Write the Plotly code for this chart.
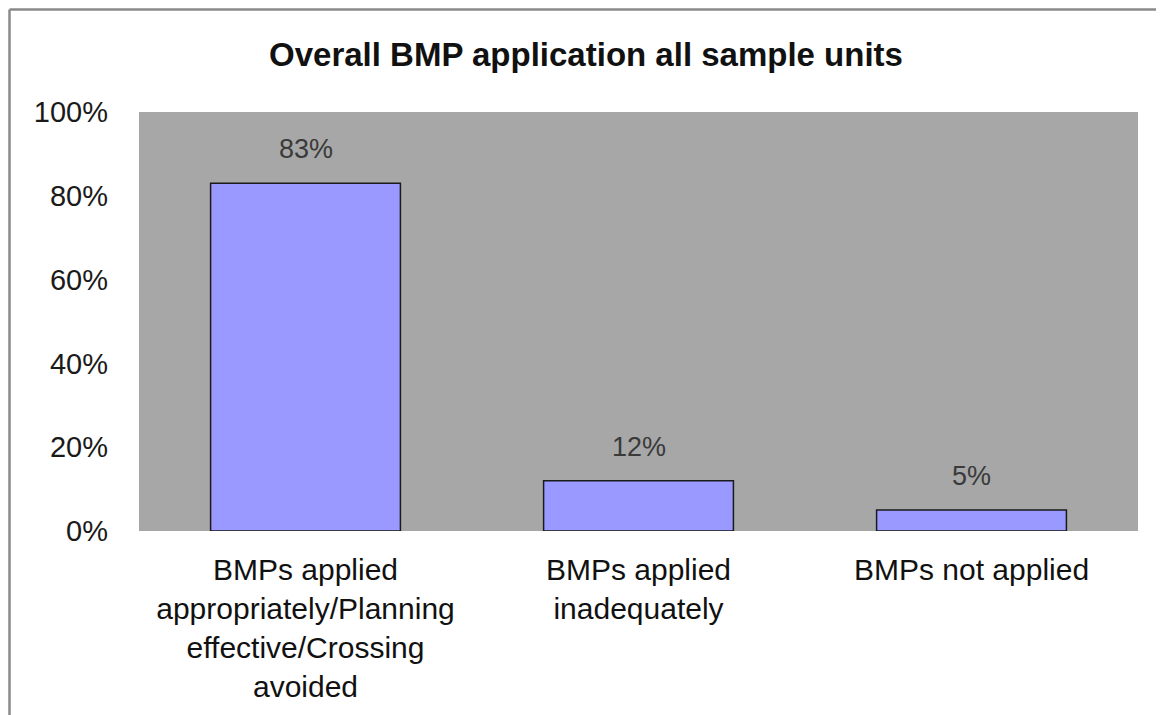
import plotly.graph_objects as go

categories = [
    "BMPs applied<br>appropriately/Planning<br>effective/Crossing<br>avoided",
    "BMPs applied<br>inadequately",
    "BMPs not applied",
]
values = [0.83, 0.12, 0.05]
value_labels = ["83%", "12%", "5%"]
tick_vals = [0, 0.2, 0.4, 0.6, 0.8, 1.0]
tick_text = ["0%", "20%", "40%", "60%", "80%", "100%"]
title_text = "Overall BMP application all sample units"

FONT = "Liberation Sans, Arial, sans-serif"

fig = go.Figure(
    go.Bar(
        x=categories,
        y=values,
        marker=dict(color="#9999FF", line=dict(color="#1a1a1a", width=1.5)),
    )
)

# data labels, placed from the data values
for c, v, t in zip(categories, values, value_labels):
    fig.add_annotation(
        x=c, y=v, text=t, showarrow=False, yanchor="bottom", yshift=17,
        font=dict(family=FONT, size=27, color="#3a3a3a"),
    )

# page has an 8px body margin, so the figure is sized to fit inside the window
W, H = 1156, 707
ml, mr, mt, mb = 131, 26, 104, 184
pw, ph = W - ml - mr, H - mt - mb

fig.update_layout(
    width=W,
    height=H,
    margin=dict(l=ml, r=mr, t=mt, b=mb),
    paper_bgcolor="white",
    plot_bgcolor="#A7A7A7",
    bargap=0.43,
    showlegend=False,
    title=dict(
        text="<b>" + title_text + "</b>",
        x=0.5,
        xref="container",
        xanchor="center",
        y=1 - 46 / H,
        yanchor="middle",
        yref="container",
        font=dict(family=FONT, size=33, color="#111111"),
    ),
    font=dict(family=FONT),
)

fig.update_yaxes(
    range=[0, 1.0],
    tickvals=tick_vals,
    ticktext=tick_text,
    showgrid=False,
    zeroline=False,
    showline=False,
    ticks="",
    ticklabelstandoff=30,
    tickfont=dict(family=FONT, size=29, color="#1a1a1a"),
)
fig.update_xaxes(
    showgrid=False,
    showline=False,
    ticks="",
    ticklabelstandoff=18,
    tickfont=dict(family=FONT, size=30, color="#111111"),
)

# outer chart border (left and top edges visible in the reference)
bx0 = (1.5 - ml) / pw
by1 = (H - mb - 1.5) / ph
fig.add_shape(type="line", xref="paper", yref="paper", x0=bx0, x1=bx0, y0=by1, y1=-1.0,
              line=dict(color="#8a8a8a", width=2.5))
fig.add_shape(type="line", xref="paper", yref="paper", x0=bx0, x1=1.1, y0=by1, y1=by1,
              line=dict(color="#8a8a8a", width=2.5))

fig.write_html("out.html")
